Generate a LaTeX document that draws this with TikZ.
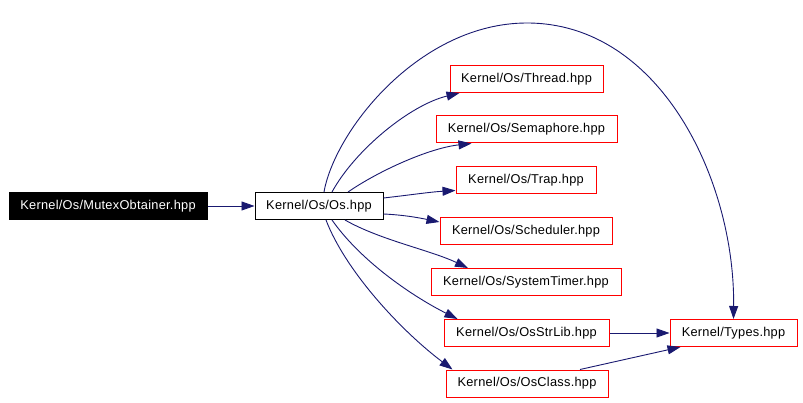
\documentclass[tikz,border=0pt]{standalone}
\usepackage{fontspec}
\setmainfont{Liberation Sans}[LetterSpace=2]
\usetikzlibrary{arrows.meta}
\definecolor{edgeblue}{RGB}{25,25,112}
\tikzset{
  file/.style={draw=red, line width=1pt, fill=white, inner sep=0pt, minimum height=27pt, font=\fontsize{12.8}{14}\selectfont},
  mainfile/.style={file, draw=black},
  rootfile/.style={file, draw=black, fill=black, text=white},
  dep/.style={draw=edgeblue, line width=0.9pt, -{Triangle[length=13pt,width=9pt]}},
}
\begin{document}
\begin{tikzpicture}[x=1pt,y=-1pt]
\useasboundingbox (0,0) rectangle (803,403);
\node[rootfile, minimum width=198pt] (mutex) at (108,206) {Kernel/Os/MutexObtainer.hpp};
\node[mainfile, minimum width=128pt] (os) at (319,206) {Kernel/Os/Os.hpp};
\node[file, minimum width=153pt] (thread) at (526.5,79) {Kernel/Os/Thread.hpp};
\node[file, minimum width=181pt] (sema) at (526.5,129.5) {Kernel/Os/Semaphore.hpp};
\node[file, minimum width=140pt] (trap) at (526,180.5) {Kernel/Os/Trap.hpp};
\node[file, minimum width=172pt] (sched) at (526,231) {Kernel/Os/Scheduler.hpp};
\node[file, minimum width=190pt] (systimer) at (526,282) {Kernel/Os/SystemTimer.hpp};
\node[file, minimum width=165pt] (strlib) at (526.5,333) {Kernel/Os/OsStrLib.hpp};
\node[file, minimum width=162pt] (osclass) at (527,383.5) {Kernel/Os/OsClass.hpp};
\node[file, minimum width=127pt] (types) at (733.5,333) {Kernel/Types.hpp};

\draw[dep] (mutex.east) -- (os.west);
\draw[dep] ([xshift=13pt]os.north) .. controls (355,150) and (410,105) .. ([xshift=10pt]thread.south west);
\draw[dep] ([xshift=29pt]os.north) .. controls (380,170) and (430,148) .. ([xshift=36pt]sema.south west);
\draw[dep] ([yshift=8pt]os.east) .. controls (410,195) and (430,192) .. ([yshift=-10pt]trap.west);
\draw[dep] ([yshift=-8pt]os.east) .. controls (405,215) and (420,218) .. ([yshift=9pt]sched.west);
\draw[dep] ([xshift=26pt]os.south) .. controls (380,240) and (430,250) .. ([xshift=-58pt]systimer.north);
\draw[dep] ([xshift=13pt]os.south) .. controls (360,260) and (410,295) .. ([xshift=14pt]strlib.north west);
\draw[dep] ([xshift=7pt]os.south) .. controls (345,270) and (400,330) .. ([xshift=7pt]osclass.north west);
\draw[dep] ([xshift=5pt]os.north) .. controls (335,130) and (420,23) .. (527,23)
  .. controls (660,23) and (735,180) .. (types.north);
\draw[dep] (strlib.east) -- (types.west);
\draw[dep] ([xshift=53pt]osclass.north) -- ([xshift=-53pt]types.south);
\end{tikzpicture}
\end{document}
